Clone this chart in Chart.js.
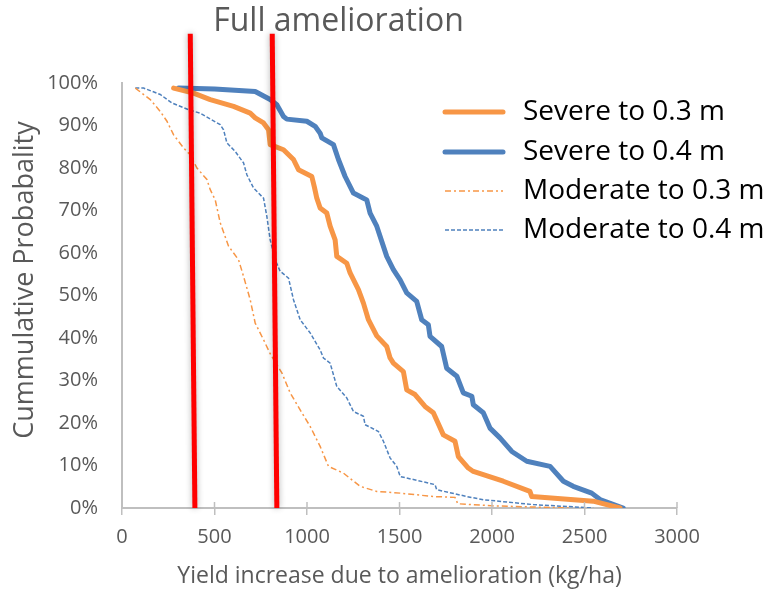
<!DOCTYPE html>
<html>
<head>
<meta charset="utf-8">
<title>Full amelioration</title>
<script src="https://cdn.jsdelivr.net/npm/chart.js@4.4.0/dist/chart.umd.min.js"></script>
<style>
    html, body { margin: 0; padding: 0; background: #fff; }
    #wrap { width: 771px; height: 592px; }
</style>
</head>
<body>
<div id="wrap"><canvas id="chartCdf" width="771" height="592"></canvas></div>
<script>
// values (x = kg/ha, y = cumulative %)
var seriesNames = ["Severe to 0.3 m", "Severe to 0.4 m", "Moderate to 0.3 m", "Moderate to 0.4 m"];

var severe03X = [279, 387, 477, 603, 693, 720, 765, 792, 801, 873, 927, 954, 1026, 1040, 1053, 1071, 1107, 1125, 1152, 1161, 1215, 1233, 1278, 1305, 1332, 1377, 1431, 1449, 1467, 1521, 1539, 1584, 1638, 1683, 1737, 1800, 1818, 1872, 1899, 2061, 2205, 2215, 2547, 2692];
var severe03Y = [98.8, 97.6, 96.1, 94.5, 92.9, 91.8, 90.6, 89.0, 85.5, 84.3, 82.0, 79.6, 78.0, 75.5, 72.9, 70.6, 69.4, 66.3, 63.1, 59.2, 57.6, 55.3, 51.4, 48.2, 44.3, 40.5, 38.0, 35.3, 34.1, 32.1, 27.8, 26.7, 23.9, 22.4, 17.2, 15.7, 12.1, 9.4, 8.6, 6.3, 3.9, 2.7, 1.6, 0];

var severe04X = [306, 500, 720, 801, 837, 873, 891, 999, 1044, 1071, 1080, 1143, 1170, 1206, 1251, 1305, 1323, 1341, 1377, 1431, 1467, 1504, 1539, 1593, 1620, 1656, 1665, 1728, 1755, 1810, 1845, 1891, 1899, 1953, 1989, 2043, 2107, 2188, 2314, 2386, 2439, 2539, 2584, 2709];
var severe04Y = [98.8, 98.6, 98.0, 96.1, 94.9, 92.1, 91.5, 91.0, 89.8, 88.2, 87.1, 85.5, 82.0, 78.0, 74.1, 72.9, 72.5, 69.4, 66.3, 59.2, 56.1, 53.6, 50.6, 48.6, 44.3, 43.1, 40.4, 38.0, 32.9, 31.0, 27.1, 26.3, 24.3, 22.4, 18.8, 16.5, 13.3, 11.0, 9.8, 6.3, 5.1, 3.5, 2.0, 0];

var moderate03X = [72, 153, 207, 243, 279, 333, 369, 405, 459, 477, 504, 531, 576, 630, 657, 693, 720, 765, 801, 864, 909, 963, 1017, 1071, 1116, 1197, 1287, 1377, 1504, 1683, 1800, 1815, 2007, 2420];
var moderate03Y = [98.8, 96.1, 93.3, 91.0, 87.8, 84.7, 83.1, 80.0, 77.3, 74.9, 72.5, 67.1, 61.6, 58.4, 54.5, 49.0, 43.5, 39.6, 36.3, 31.8, 27.1, 23.1, 19.2, 14.5, 9.8, 8.2, 5.1, 3.9, 3.5, 2.7, 2.5, 1.0, 0.5, 0];

var moderate04X = [72, 117, 207, 270, 360, 423, 531, 549, 567, 612, 657, 675, 711, 765, 783, 801, 828, 855, 900, 927, 963, 1017, 1071, 1089, 1125, 1161, 1215, 1251, 1305, 1314, 1386, 1413, 1449, 1485, 1504, 1575, 1692, 1701, 1864, 1953, 2223, 2547];
var moderate04Y = [98.8, 98.8, 97.3, 95.3, 93.7, 92.9, 90.2, 89.0, 85.9, 83.9, 81.2, 78.4, 75.3, 72.9, 68.6, 63.1, 58.4, 55.7, 54.1, 49.0, 44.3, 41.2, 37.2, 35.3, 34.1, 28.6, 25.9, 22.7, 21.6, 19.6, 18.0, 15.7, 11.8, 9.8, 7.4, 6.7, 5.5, 4.3, 2.7, 1.95, 0.8, 0];

// the two red marker lines (slightly slanted in the original)
var marker1X = [369, 394];
var marker2X = [812, 837];
var markerY = [111.6, 0];

var xTicks = [0, 500, 1000, 1500, 2000, 2500, 3000];
var yTicks = [0, 10, 20, 30, 40, 50, 60, 70, 80, 90, 100];

var orange = "#F79646";
var blue = "#4F81BD";
var grey = "#595959";
var axisGrey = "#BFBFBF";
var fontFamily = "'Open Sans', 'Noto Sans', sans-serif";

function toPoints(xs, ys) {
    var pts = [];
    for (let i = 0; i < xs.length; i++) {
        pts.push({ x: xs[i], y: ys[i] });
    }
    return pts;
}

// grey glow around the red lines
var glowPlugin = {
    id: "glow",
    beforeDatasetDraw: function(chart, args) {
        var ds = chart.data.datasets[args.index];
        if (ds.glow) {
            chart.ctx.save();
            chart.ctx.shadowColor = "rgba(0,0,0,0.3)";
            chart.ctx.shadowBlur = 6;
        }
    },
    afterDatasetDraw: function(chart, args) {
        if (chart.data.datasets[args.index].glow) {
            chart.ctx.restore();
        }
    },
};

// x tick marks cross the axis line; y title drawn by hand (bigger, a bit higher than centre)
var axisExtras = {
    id: "axisExtras",
    afterDraw: function(chart) {
        var ctx = chart.ctx;
        var area = chart.chartArea;
        var xs = chart.scales.x;
        ctx.save();
        ctx.strokeStyle = axisGrey;
        ctx.lineWidth = 1.5;
        xTicks.forEach(function(v) {
            var px = xs.getPixelForValue(v);
            ctx.beginPath();
            ctx.moveTo(px, area.bottom - 6);
            ctx.lineTo(px, area.bottom);
            ctx.stroke();
        });
        ctx.translate(33, 280);
        ctx.rotate(-Math.PI / 2);
        ctx.font = "27px " + fontFamily;
        ctx.fillStyle = grey;
        ctx.textAlign = "center";
        ctx.textBaseline = "alphabetic";
        ctx.fillText("Cummulative Probabality", 0, 0);
        ctx.restore();
    },
};

// legend sits inside the plot, to the right
var legendPlugin = {
    id: "sideLegend",
    afterDraw: function(chart) {
        var ctx = chart.ctx;
        var rowY = [112, 152, 191, 230];
        ctx.save();
        ctx.font = "28px " + fontFamily;
        ctx.textBaseline = "middle";
        for (let i = 0; i < seriesNames.length; i++) {
            var ds = chart.data.datasets[i];
            ctx.beginPath();
            ctx.strokeStyle = ds.borderColor;
            ctx.lineWidth = ds.borderWidth;
            ctx.lineCap = ds.borderDash ? "butt" : "round";
            ctx.setLineDash(ds.borderDash || []);
            ctx.moveTo(445, rowY[i]);
            ctx.lineTo(503, rowY[i]);
            ctx.stroke();
            ctx.setLineDash([]);
            ctx.fillStyle = "#000";
            ctx.fillText(seriesNames[i], 523, rowY[i]);
        }
        ctx.restore();
    },
};

var lineBase = {
    showLine: true,
    pointRadius: 0,
    tension: 0,
    fill: false,
};

var datasets = [
    Object.assign({}, lineBase, { label: seriesNames[0], data: toPoints(severe03X, severe03Y), borderColor: orange, borderWidth: 5, borderJoinStyle: "round", borderCapStyle: "round", order: 3 }),
    Object.assign({}, lineBase, { label: seriesNames[1], data: toPoints(severe04X, severe04Y), borderColor: blue, borderWidth: 5, borderJoinStyle: "round", borderCapStyle: "round", order: 4 }),
    Object.assign({}, lineBase, { label: seriesNames[2], data: toPoints(moderate03X, moderate03Y), borderColor: orange, borderWidth: 1.5, borderDash: [6, 3, 2, 3], order: 5 }),
    Object.assign({}, lineBase, { label: seriesNames[3], data: toPoints(moderate04X, moderate04Y), borderColor: blue, borderWidth: 1.5, borderDash: [4, 2], order: 6 }),
    Object.assign({}, lineBase, { label: "marker 1", data: toPoints(marker1X, markerY), borderColor: "#FF0000", borderWidth: 5, clip: false, glow: true, order: 1 }),
    Object.assign({}, lineBase, { label: "marker 2", data: toPoints(marker2X, markerY), borderColor: "#FF0000", borderWidth: 5, clip: false, glow: true, order: 2 }),
];

var ctx = document.getElementById("chartCdf");
var cdfChart = new Chart(ctx, {
    type: "scatter",
    data: { datasets: datasets },
    plugins: [glowPlugin, axisExtras, legendPlugin],
    options: {
        responsive: false,
        animation: false,
        devicePixelRatio: 1,
        layout: {
            padding: { left: 0, right: 94, top: 0, bottom: 0 },
        },
        plugins: {
            legend: { display: false },
            tooltip: { enabled: false },
            title: {
                display: true,
                text: "Full amelioration",
                color: grey,
                font: { family: fontFamily, size: 32, weight: "normal" },
                padding: { top: 3, bottom: 41.6 },
            },
        },
        scales: {
            x: {
                type: "linear",
                min: 0,
                max: 3000,
                afterBuildTicks: function(scale) {
                    scale.ticks = xTicks.map(function(v) { return { value: v }; });
                },
                afterFit: function(scale) {
                    scale.height = 84;
                },
                grid: {
                    drawOnChartArea: false,
                    color: axisGrey,
                    lineWidth: 1.5,
                    tickLength: 7,
                },
                border: { color: axisGrey, width: 2 },
                ticks: {
                    color: grey,
                    padding: 10,
                    maxRotation: 0,
                    font: { family: fontFamily, size: 20 },
                    callback: function(v) { return String(v); },
                },
                title: {
                    display: true,
                    text: "Yield increase due to amelioration (kg/ha)",
                    color: grey,
                    font: { family: fontFamily, size: 23 },
                    padding: { top: 0, bottom: 2 },
                },
            },
            y: {
                type: "linear",
                min: 0,
                max: 100,
                afterBuildTicks: function(scale) {
                    scale.ticks = yTicks.map(function(v) { return { value: v }; });
                },
                afterFit: function(scale) {
                    scale.width = 122;
                },
                grid: { display: false },
                border: { display: true, color: axisGrey, width: 2 },
                ticks: {
                    color: grey,
                    padding: 16,
                    font: { family: fontFamily, size: 20 },
                    callback: function(v) { return v + "%"; },
                },
            },
        },
    },
});
</script>
</body>
</html>
